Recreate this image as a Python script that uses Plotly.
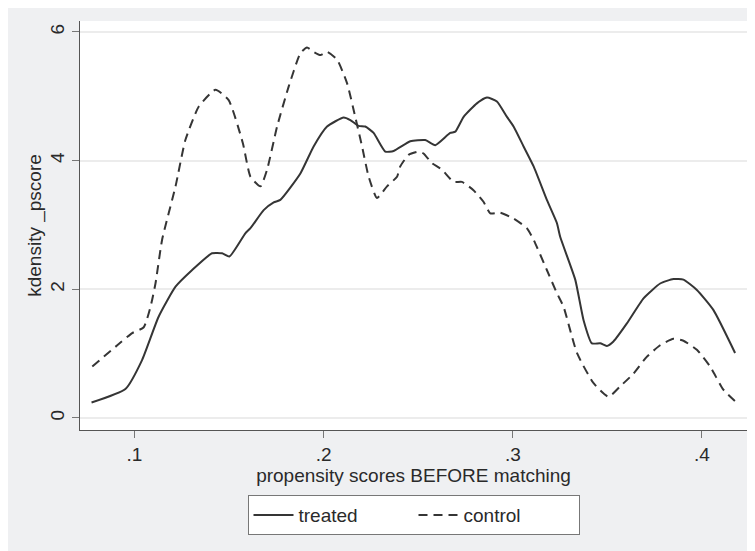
import plotly.graph_objects as go

# Treated kernel density (solid)
treated_x = [0.0773, 0.0952, 0.1040, 0.1127, 0.1217, 0.1305, 0.1410, 0.1463, 0.1502, 0.1586,
             0.1613, 0.1683, 0.1736, 0.1771, 0.1877, 0.1947, 0.2018, 0.2106, 0.2141, 0.2185,
             0.2220, 0.2264, 0.2326, 0.2370, 0.2458, 0.2537, 0.2590, 0.2669, 0.2696, 0.2740,
             0.2810, 0.2863, 0.2916, 0.2969, 0.3004, 0.3057, 0.3110, 0.3180, 0.3233, 0.3250,
             0.3330, 0.3374, 0.3418, 0.3462, 0.3497, 0.3532, 0.3603, 0.3691, 0.3779, 0.3849,
             0.3902, 0.3973, 0.4060, 0.4175]
treated_y = [0.24, 0.45, 0.90, 1.57, 2.04, 2.30, 2.56, 2.56, 2.51, 2.87,
             2.95, 3.23, 3.35, 3.39, 3.80, 4.22, 4.53, 4.67, 4.63, 4.54,
             4.53, 4.43, 4.14, 4.15, 4.30, 4.32, 4.24, 4.43, 4.45, 4.68,
             4.89, 4.98, 4.92, 4.68, 4.53, 4.22, 3.91, 3.39, 3.03, 2.82,
             2.15, 1.52, 1.16, 1.16, 1.12, 1.19, 1.47, 1.86, 2.09, 2.16,
             2.15, 1.99, 1.68, 1.01]

# Control kernel density (dashed)
control_x = [0.0777, 0.0909, 0.0988, 0.1049, 0.1085, 0.1111, 0.1146, 0.1217, 0.1269, 0.1340,
             0.1428, 0.1498, 0.1573, 0.1613, 0.1666, 0.1701, 0.1754, 0.1815, 0.1877, 0.1912,
             0.1947, 0.1983, 0.2018, 0.2071, 0.2124, 0.2167, 0.2203, 0.2238, 0.2282, 0.2335,
             0.2388, 0.2405, 0.2449, 0.2502, 0.2528, 0.2573, 0.2625, 0.2687, 0.2731, 0.2792,
             0.2845, 0.2881, 0.2933, 0.3004, 0.3074, 0.3110, 0.3180, 0.3233, 0.3268, 0.3339,
             0.3427, 0.3506, 0.3567, 0.3638, 0.3708, 0.3779, 0.3849, 0.3902, 0.3973, 0.4043,
             0.4113, 0.4175]
control_y = [0.80, 1.13, 1.32, 1.41, 1.73, 2.09, 2.77, 3.60, 4.32, 4.84,
             5.10, 4.94, 4.27, 3.75, 3.60, 3.86, 4.53, 5.15, 5.67, 5.76,
             5.69, 5.64, 5.69, 5.57, 5.20, 4.68, 4.22, 3.75, 3.42, 3.60,
             3.75, 3.91, 4.09, 4.14, 4.11, 3.96, 3.86, 3.67, 3.67, 3.54,
             3.36, 3.18, 3.19, 3.10, 2.95, 2.77, 2.30, 1.94, 1.73, 1.01,
             0.54, 0.33, 0.49, 0.69, 0.95, 1.13, 1.23, 1.20, 1.06, 0.80,
             0.44, 0.26]

x_tickvals = [0.1, 0.2, 0.3, 0.4]
x_ticktext = [".1", ".2", ".3", ".4"]
y_tickvals = [0, 2, 4, 6]
y_ticktext = ["0", "2", "4", "6"]

LINE = "#353535"
TXT = "#2a2a2a"
FONT = "Liberation Sans"
BG = "#eff0f2"
FS = 19

fig = go.Figure()
fig.add_trace(go.Scatter(x=treated_x, y=treated_y, mode="lines", name="treated",
                         line=dict(color=LINE, width=2, shape="spline", smoothing=0.5)))
fig.add_trace(go.Scatter(x=control_x, y=control_y, mode="lines", name="control",
                         line=dict(color=LINE, width=2, dash="9px,6px", shape="spline", smoothing=0.5)))

fig.update_layout(
    width=755, height=551,
    margin=dict(l=72, r=16, t=13, b=129, autoexpand=False),
    paper_bgcolor=BG, plot_bgcolor="white",
    font=dict(family=FONT, size=FS, color=TXT),
    showlegend=True,
    legend=dict(orientation="h", x=0.5, xanchor="center", y=-0.159, yanchor="top",
                bgcolor="white", bordercolor="#777", borderwidth=1,
                font=dict(family=FONT, size=FS, color=TXT), entrywidth=110, itemwidth=40,
                tracegroupgap=0),
    xaxis=dict(range=[0.0712, 0.4238], tickvals=x_tickvals, ticktext=x_ticktext,
               showgrid=False, zeroline=False, showline=True, linecolor="#555", linewidth=1,
               ticks="outside", ticklen=7, tickcolor="#777", automargin=False,
               tickfont=dict(family=FONT, size=FS, color=TXT),
               title=dict(text="propensity scores BEFORE matching", standoff=0,
                          font=dict(family=FONT, size=FS, color=TXT))),
    yaxis=dict(range=[-0.187, 6.17], tickvals=y_tickvals, ticktext=y_ticktext,
               showgrid=True, gridcolor="#ececec", gridwidth=2, zeroline=False,
               showline=True, linecolor="#555", linewidth=1, automargin=False,
               ticks="outside", ticklen=7, tickcolor="#777", tickangle=-90,
               tickfont=dict(family=FONT, size=FS, color=TXT),
               title=dict(text="kdensity _pscore", standoff=0,
                          font=dict(family=FONT, size=FS, color=TXT))),
)

fig.write_html("out.html")
